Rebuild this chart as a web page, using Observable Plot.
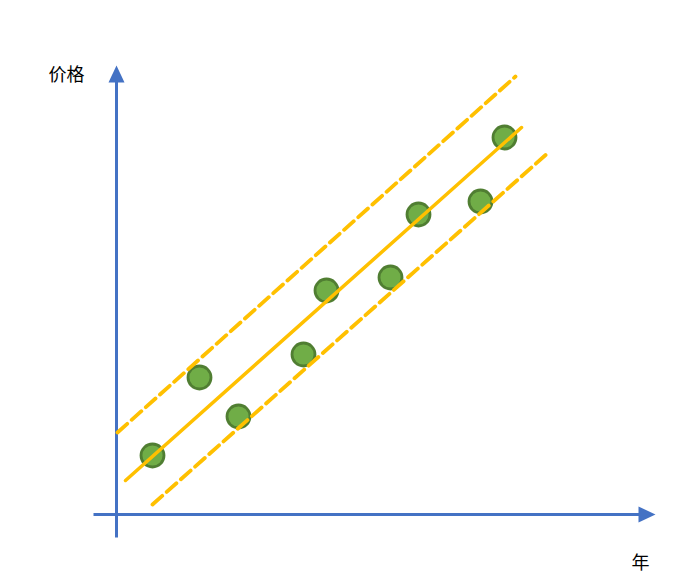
<!DOCTYPE html>
<html>
<head>
<meta charset="utf-8">
<script src="https://cdn.jsdelivr.net/npm/d3@7"></script>
<script src="https://cdn.jsdelivr.net/npm/@observablehq/plot@0.6"></script>
<style>
  html, body { margin: 0; padding: 0; background: #fff; }
</style>
</head>
<body>
<div id="chart"></div>
<script>
// Data points (year, price) in arbitrary units
const years  = [3.6, 8.3, 12.2, 18.7, 21.0, 27.4, 30.2, 36.4, 38.8];
const prices = [5.9, 13.7, 9.8, 16.0, 22.4, 23.7, 30.0, 31.3, 37.7];

// Regression line and band (endpoints)
const fitX   = [0.9, 40.5];
const fitY   = [3.4, 38.7];
const upperX = [0.1, 39.9];
const upperY = [8.2, 43.8];
const lowerX = [3.6, 43.3];
const lowerY = [1.0, 36.3];

// Axis extents
const xAxisX = [-2.3, 52.4];
const yAxisY = [-2.3, 43.4];
const xHeadX = [52.2, 53.9, 52.2];
const xHeadY = [0.8, 0, -0.8];
const yHeadX = [-0.8, 0, 0.8];
const yHeadY = [43.2, 44.9, 43.2];

// Labels
const labels = ["价格", "年"];
const labelX = [-5.0, 52.4];
const labelY = [43.9, -4.9];

const pts = years.map((x, i) => ({x, y: prices[i]}));
const seg = (xs, ys) => xs.map((x, i) => ({x, y: ys[i]}));

const blue = "#4472C4";
const gold = "#FFC000";

const chart = Plot.plot({
  width: 695,
  height: 586,
  margin: 0,
  x: {domain: [-11.6, 57.9], axis: null},
  y: {domain: [-7.2, 51.4], axis: null},
  marks: [
    // axes
    Plot.line(seg(xAxisX, [0, 0]), {x: "x", y: "y", stroke: blue, strokeWidth: 3, strokeLinecap: "butt"}),
    Plot.line(seg([0, 0], yAxisY), {x: "x", y: "y", stroke: blue, strokeWidth: 3, strokeLinecap: "butt"}),
    Plot.line(seg(xHeadX, xHeadY), {x: "x", y: "y", fill: blue, stroke: "none"}),
    Plot.line(seg(yHeadX, yHeadY), {x: "x", y: "y", fill: blue, stroke: "none"}),
    // points
    Plot.dot(pts, {x: "x", y: "y", r: 11.5, fill: "#70AD47", stroke: "#507E32", strokeWidth: 2.8}),
    // lines
    Plot.line(seg(fitX, fitY), {x: "x", y: "y", stroke: gold, strokeWidth: 3.5}),
    Plot.line(seg(upperX, upperY), {x: "x", y: "y", stroke: gold, strokeWidth: 3.8, strokeDasharray: "13,6"}),
    Plot.line(seg(lowerX, lowerY), {x: "x", y: "y", stroke: gold, strokeWidth: 3.8, strokeDasharray: "13,6"}),
    // labels
    Plot.text(labels, {
      x: (d, i) => labelX[i], y: (d, i) => labelY[i], text: d => d,
      fontSize: 18, fill: "#000", fontFamily: "Noto Sans CJK SC"
    })
  ]
});
document.getElementById("chart").appendChild(chart);
</script>
</body>
</html>
